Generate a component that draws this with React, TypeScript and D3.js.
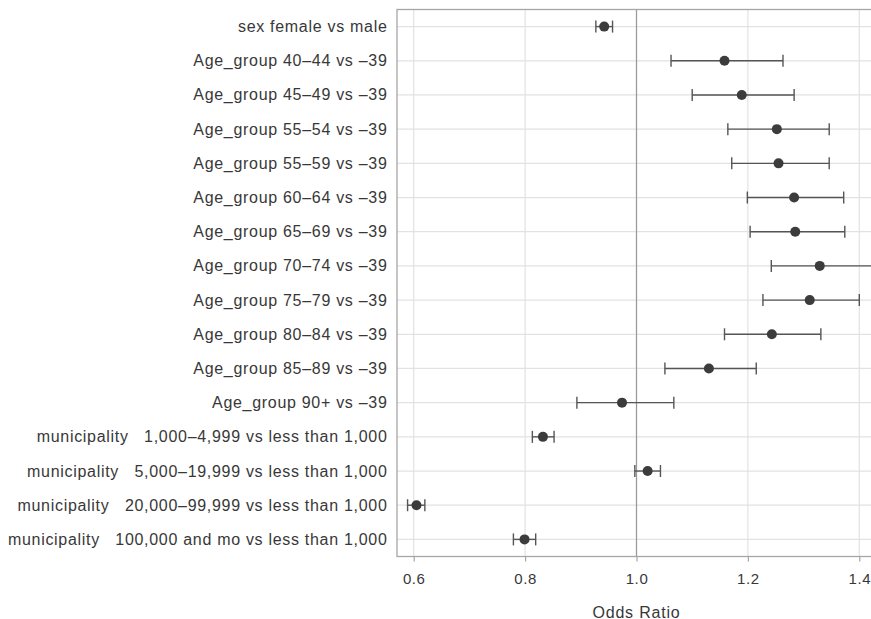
import React, { useRef, useEffect } from "react";
import * as d3 from "d3";

const labels = [
  "sex female vs male",
  "Age_group 40–44 vs –39",
  "Age_group 45–49 vs –39",
  "Age_group 55–54 vs –39",
  "Age_group 55–59 vs –39",
  "Age_group 60–64 vs –39",
  "Age_group 65–69 vs –39",
  "Age_group 70–74 vs –39",
  "Age_group 75–79 vs –39",
  "Age_group 80–84 vs –39",
  "Age_group 85–89 vs –39",
  "Age_group 90+ vs –39",
  "municipality   1,000–4,999 vs less than 1,000",
  "municipality   5,000–19,999 vs less than 1,000",
  "municipality   20,000–99,999 vs less than 1,000",
  "municipality   100,000 and mo vs less than 1,000",
];

const oddsRatio = [0.942, 1.158, 1.189, 1.252, 1.255, 1.283, 1.285, 1.329, 1.311, 1.243, 1.13, 0.974, 0.832, 1.02, 0.605, 0.799];
const lowerCI = [0.927, 1.062, 1.1, 1.164, 1.171, 1.199, 1.204, 1.242, 1.227, 1.158, 1.051, 0.893, 0.813, 0.997, 0.589, 0.779];
const upperCI = [0.957, 1.263, 1.283, 1.346, 1.346, 1.372, 1.374, 1.425, 1.4, 1.331, 1.215, 1.067, 0.852, 1.043, 0.62, 0.819];

const xTicks = [0.6, 0.8, 1.0, 1.2, 1.4];

const ForestPlot = () => {
  const svgRef = useRef<SVGSVGElement>(null);

  useEffect(() => {
    const svg = d3.select(svgRef.current);
    svg.selectAll("*").remove();

    const left = 397;
    const right = 876;
    const top = 9.5;
    const bottom = 556.5;
    const font = "'Liberation Sans', Arial, sans-serif";
    const textColor = "#383838";

    const x = d3.scaleLinear().domain([0.57, 1.43]).range([left, right]);
    const y = d3.scalePoint().domain(labels).range([top, bottom]).padding(0.5);

    // grid
    svg
      .append("g")
      .selectAll("line")
      .data(xTicks)
      .enter()
      .append("line")
      .attr("x1", (d) => x(d))
      .attr("x2", (d) => x(d))
      .attr("y1", top)
      .attr("y2", bottom)
      .attr("stroke", "#e2e2e2")
      .attr("stroke-width", 1.2);

    svg
      .append("g")
      .selectAll("line")
      .data(labels)
      .enter()
      .append("line")
      .attr("x1", left)
      .attr("x2", right)
      .attr("y1", (d) => y(d))
      .attr("y2", (d) => y(d))
      .attr("stroke", "#e2e2e2")
      .attr("stroke-width", 1.2);

    // reference line at 1
    svg
      .append("line")
      .attr("x1", x(1))
      .attr("x2", x(1))
      .attr("y1", top)
      .attr("y2", bottom)
      .attr("stroke", "#999")
      .attr("stroke-width", 1.2);

    // frame
    svg
      .append("rect")
      .attr("x", left)
      .attr("y", top)
      .attr("width", right - left)
      .attr("height", bottom - top)
      .attr("fill", "none")
      .attr("stroke", "#a6a6a6")
      .attr("stroke-width", 1.3);

    // x axis
    const ax = svg
      .append("g")
      .attr("transform", "translate(0," + bottom + ")")
      .call(
        d3
          .axisBottom(x)
          .tickValues(xTicks)
          .tickFormat(d3.format(".1f"))
          .tickSize(5)
          .tickPadding(12)
      );
    ax.select(".domain").remove();
    ax.selectAll("line").attr("stroke", "#a6a6a6").attr("stroke-width", 1.2);
    ax.selectAll("text")
      .attr("fill", textColor)
      .style("font-family", font)
      .style("font-size", "15px")
      .style("letter-spacing", "0.6px");

    svg
      .append("text")
      .attr("x", x(1))
      .attr("y", 612)
      .attr("text-anchor", "middle")
      .attr("dominant-baseline", "central")
      .attr("fill", textColor)
      .style("font-family", font)
      .style("font-size", "16px")
      .style("letter-spacing", "0.8px")
      .text("Odds Ratio");

    // y labels
    svg
      .append("g")
      .selectAll("text")
      .data(labels)
      .enter()
      .append("text")
      .attr("x", 387.5)
      .attr("y", (d) => y(d))
      .attr("text-anchor", "end")
      .attr("dominant-baseline", "central")
      .attr("fill", textColor)
      .style("font-family", font)
      .style("font-size", "16px")
      .style("letter-spacing", "0.7px")
      .style("white-space", "pre")
      .text((d) => d);

    // error bars
    const rows = labels.map((d, i) => ({ label: d, or: oddsRatio[i], lo: lowerCI[i], hi: upperCI[i] }));
    const bars = svg.append("g").attr("stroke", "#555").attr("stroke-width", 1.4);

    bars
      .selectAll(".ci")
      .data(rows)
      .enter()
      .append("line")
      .attr("x1", (d) => x(d.lo))
      .attr("x2", (d) => x(d.hi))
      .attr("y1", (d) => y(d.label))
      .attr("y2", (d) => y(d.label));

    bars
      .selectAll(".capL")
      .data(rows)
      .enter()
      .append("line")
      .attr("x1", (d) => x(d.lo))
      .attr("x2", (d) => x(d.lo))
      .attr("y1", (d) => y(d.label) - 6)
      .attr("y2", (d) => y(d.label) + 6);

    bars
      .selectAll(".capR")
      .data(rows)
      .enter()
      .append("line")
      .attr("x1", (d) => x(d.hi))
      .attr("x2", (d) => x(d.hi))
      .attr("y1", (d) => y(d.label) - 6)
      .attr("y2", (d) => y(d.label) + 6);

    svg
      .append("g")
      .selectAll("circle")
      .data(rows)
      .enter()
      .append("circle")
      .attr("cx", (d) => x(d.or))
      .attr("cy", (d) => y(d.label))
      .attr("r", 5)
      .attr("fill", "#3c3c3c");
  }, []);

  return (
    <svg
      ref={svgRef}
      width={871}
      height={619}
      style={{ position: "absolute", left: 0, top: 0, background: "#fff" }}
    ></svg>
  );
};

export default function App() {
  return <ForestPlot />;
}
